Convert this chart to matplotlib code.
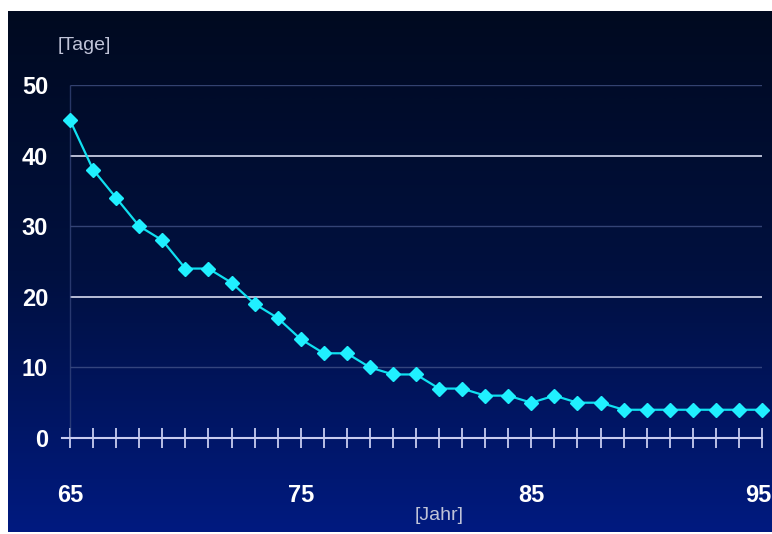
import numpy as np
import matplotlib
matplotlib.use("Agg")
import matplotlib.pyplot as plt
import matplotlib.transforms as mtransforms
from matplotlib.colors import LinearSegmentedColormap

jahre = list(range(65, 96))
tage = [45, 38, 34, 30, 28, 24, 24, 22, 19, 17, 14, 12, 12, 10, 9, 9, 7, 7, 6, 6,
        5, 6, 5, 5, 4, 4, 4, 4, 4, 4, 4]
x_labels = [65, 75, 85, 95]
y_labels = [0, 10, 20, 30, 40, 50]

plt.rcParams['font.family'] = ['Liberation Sans', 'DejaVu Sans']

fig = plt.figure(figsize=(7.72, 5.34), dpi=100, facecolor='white')

# background gradient, dark on top, blue at the bottom
bg = fig.add_axes([8 / 772, 2 / 534, 764 / 772, 521 / 534])
cmap = LinearSegmentedColormap.from_list('bg', ['#010a20', '#00103f', '#011a80'])
grad = np.linspace(0, 1, 256).reshape(-1, 1)
bg.imshow(grad, aspect='auto', cmap=cmap, extent=[0, 1, 0, 1], origin='upper')
bg.set_axis_off()

ax = fig.add_axes([62 / 772, 96 / 534, 700 / 772, 353 / 534])
ax.patch.set_alpha(0)
ax.set_xlim(64.65, 95)
ax.set_ylim(0, 50)

# grid
ax.hlines([20, 40], 65, 95, color='#d8dcf0', lw=1.2)
ax.hlines([10, 30, 50], 65, 95, color='#4a5a90', lw=1.0, alpha=0.7)
ax.vlines(65, 0, 50, color='#3a4a80', lw=1.0, alpha=0.7)

ax.plot(jahre, tage, color='#10e0f0', lw=1.6, marker='D', markersize=7,
        markerfacecolor='#20f0ff', markeredgecolor='#20f0ff', clip_on=False, zorder=5)

for s in ['top', 'right', 'left']:
    ax.spines[s].set_visible(False)
ax.spines['bottom'].set_color('#c8ccf0')
ax.spines['bottom'].set_linewidth(1.5)

ax.set_xticks(x_labels)
ax.set_xticks(jahre, minor=True)
ax.set_xticklabels([str(v) for v in x_labels])
ax.tick_params(axis='x', which='both', direction='inout', length=14, width=1.3,
               color='#c8ccf0')
ax.tick_params(axis='x', which='major', pad=26, labelsize=17, labelcolor='white')
xt = ax.get_xticklabels()
for t in xt:
    t.set_fontweight('bold')
# last label sits at the right edge
xt[-1].set_horizontalalignment('right')
xt[-1].set_transform(xt[-1].get_transform() +
                     mtransforms.ScaledTranslation(9 / 100, 0, fig.dpi_scale_trans))

ax.set_yticks(y_labels)
ax.set_yticklabels([str(v) for v in y_labels])
ax.tick_params(axis='y', length=0, pad=10, labelsize=17, labelcolor='white')
for t in ax.get_yticklabels():
    t.set_fontweight('bold')

fig.text(84 / 772, 1 - 45 / 534, '[Tage]', color='#c0c4d8', fontsize=14,
         ha='center', va='center')
fig.text(439 / 772, 1 - 515 / 534, '[Jahr]', color='#c0c4d8', fontsize=14,
         ha='center', va='center')

fig.savefig('out.png', dpi=100, facecolor='white')
